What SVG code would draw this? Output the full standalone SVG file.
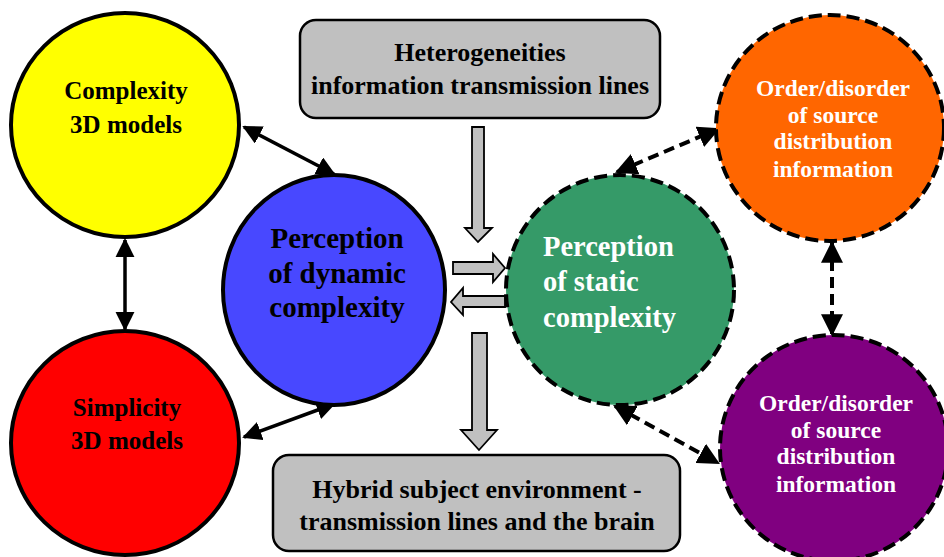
<svg xmlns="http://www.w3.org/2000/svg" width="944" height="557" viewBox="0 0 944 557">
<defs>
<style>
.c{stroke:#000;stroke-width:4}
.d{stroke:#000;stroke-width:4;stroke-dasharray:13 6}
.box{fill:#c0c0c0;stroke:#000;stroke-width:2.5}
.t{font-family:"Liberation Serif","Times New Roman",serif;font-weight:bold;text-anchor:middle}
.s{text-anchor:start}
.w{fill:#fff}
.ln{stroke:#000;stroke-width:3.5;fill:none}
.dl{stroke:#000;stroke-width:4;fill:none;stroke-dasharray:11 6}
.ba{fill:#c0c0c0;stroke:#000;stroke-width:1.8}
</style>
<marker id="ah" viewBox="0 0 10 10" refX="9" refY="5" markerWidth="5.5" markerHeight="5.5" markerUnits="strokeWidth" orient="auto-start-reverse">
<path d="M0,0 L10,5 L0,10 z" fill="#000"/>
</marker>
</defs>
<rect width="944" height="557" fill="#fff"/>
<g id="connectors">
<line class="ln" x1="244" y1="127" x2="334" y2="174" marker-start="url(#ah)" marker-end="url(#ah)"/>
<line class="ln" x1="125" y1="240" x2="125" y2="329" marker-start="url(#ah)" marker-end="url(#ah)"/>
<line class="ln" x1="244" y1="437" x2="334" y2="404" marker-start="url(#ah)" marker-end="url(#ah)"/>
<line class="dl" x1="617" y1="172" x2="718" y2="129" marker-start="url(#ah)" marker-end="url(#ah)"/>
<line class="dl" x1="832" y1="243" x2="832" y2="334" marker-start="url(#ah)" marker-end="url(#ah)"/>
<line class="dl" x1="615" y1="406" x2="718" y2="463" marker-start="url(#ah)" marker-end="url(#ah)"/>
<path class="ba" d="M472,127 H484 V228 H492 L478,242 L465,228 H472 Z"/>
<path class="ba" d="M453,262 H493 V254 L505,268 L493,282 V274 H453 Z"/>
<path class="ba" d="M505,296 H463 V288 L451,302 L463,315 V307 H505 Z"/>
<path class="ba" d="M472,333 H487 V430 H497 L479,450 L461,430 H472 Z"/>
</g>
<g id="top-box">
<rect class="box" x="300" y="20" width="360" height="98" rx="16"/>
<text class="t" x="480" y="61" font-size="26">Heterogeneities</text>
<text class="t" x="480" y="94" font-size="26">information transmission lines</text>
</g>
<g id="bottom-box">
<rect class="box" x="273" y="455" width="407" height="96" rx="16"/>
<text class="t" x="477" y="498" font-size="26">Hybrid subject environment -</text>
<text class="t" x="477" y="530" font-size="26">transmission lines and the brain</text>
</g>
<g id="complexity">
<ellipse class="c" cx="125" cy="125" rx="114" ry="112" fill="#ffff00"/>
<text class="t" x="126" y="99" font-size="25">Complexity</text>
<text class="t" x="126" y="133" font-size="25">3D models</text>
</g>
<g id="simplicity">
<ellipse class="c" cx="125" cy="443" rx="114" ry="112" fill="#ff0000"/>
<text class="t" x="127" y="416" font-size="25">Simplicity</text>
<text class="t" x="127" y="449" font-size="25">3D models</text>
</g>
<g id="dynamic">
<ellipse class="c" cx="334" cy="290" rx="111" ry="115" fill="#4848ff"/>
<text class="t" x="337" y="248" font-size="29">Perception</text>
<text class="t" x="337" y="283" font-size="29">of dynamic</text>
<text class="t" x="337" y="317" font-size="29">complexity</text>
</g>
<g id="static">
<ellipse class="d" cx="620" cy="290" rx="114" ry="115" fill="#359a68"/>
<text class="t s w" x="543" y="256" font-size="28.5">Perception</text>
<text class="t s w" x="543" y="291" font-size="28.5">of static</text>
<text class="t s w" x="543" y="327" font-size="28.5">complexity</text>
</g>
<g id="order-top">
<ellipse class="d" cx="830" cy="128" rx="114" ry="113" fill="#ff6600"/>
<text class="t w" x="833" y="96" font-size="23.5">Order/disorder</text>
<text class="t w" x="833" y="123" font-size="23.5">of source</text>
<text class="t w" x="833" y="149" font-size="23.5">distribution</text>
<text class="t w" x="833" y="177" font-size="23.5">information</text>
</g>
<g id="order-bottom">
<ellipse class="d" cx="834" cy="448" rx="114" ry="113" fill="#800080"/>
<text class="t w" x="836" y="411" font-size="23.5">Order/disorder</text>
<text class="t w" x="836" y="438" font-size="23.5">of source</text>
<text class="t w" x="836" y="464" font-size="23.5">distribution</text>
<text class="t w" x="836" y="492" font-size="23.5">information</text>
</g>
</svg>
